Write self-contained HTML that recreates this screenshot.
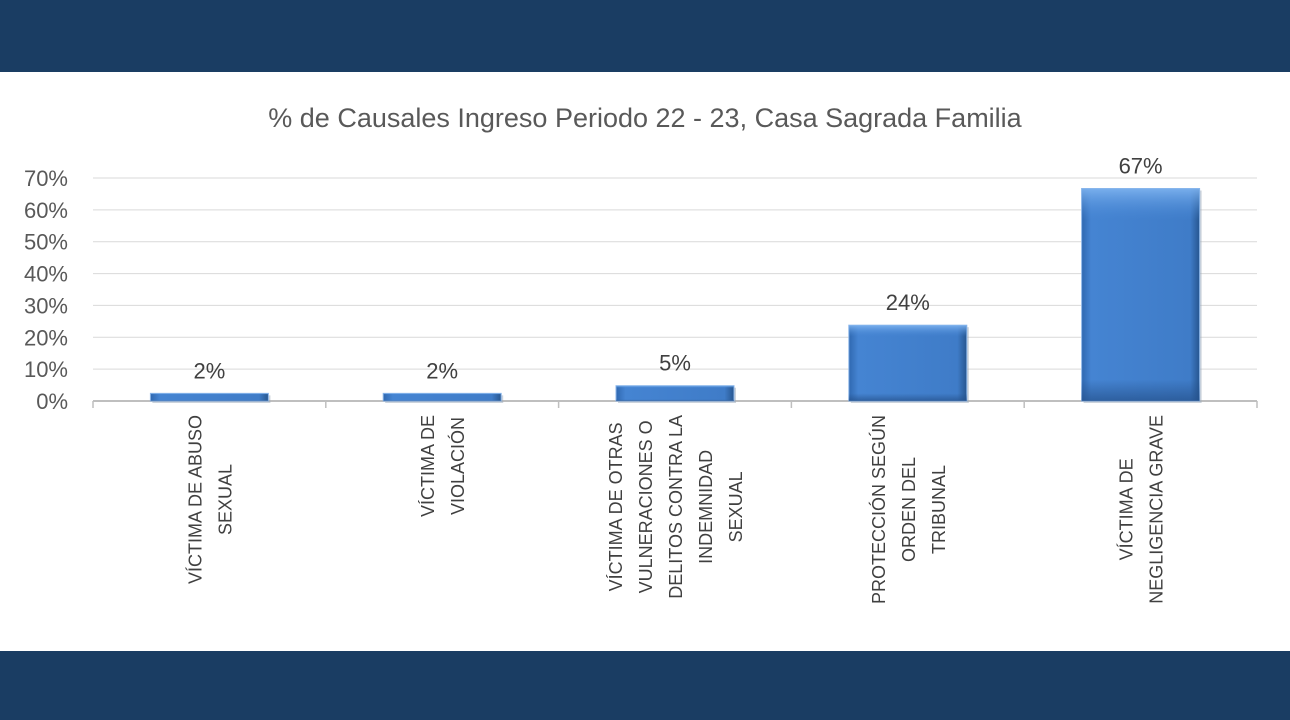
<!DOCTYPE html>
<html><head><meta charset="utf-8">
<style>
html,body{margin:0;padding:0;width:1290px;height:720px;overflow:hidden;background:#fff;font-family:"Liberation Sans",sans-serif;}
.band{position:absolute;left:0;width:1290px;background:#1a3d63;}
</style></head>
<body>
<div class="band" style="top:0;height:72px"></div>
<div class="band" style="top:651px;height:69px"></div>
<svg id="chart" width="1290" height="720" style="position:absolute;left:0;top:0">
<defs>
<linearGradient id="gx" x1="0" x2="1" y1="0" y2="0">
<stop offset="0" stop-color="#2f68b0"/><stop offset="0.08" stop-color="#4584d2"/><stop offset="0.92" stop-color="#3f7cc8"/><stop offset="1" stop-color="#27568f"/>
</linearGradient>
<linearGradient id="gy" x1="0" x2="0" y1="0" y2="1">
<stop offset="0" stop-color="#7fb4f0" stop-opacity="0.9"/><stop offset="0.15" stop-color="#4a8ad8" stop-opacity="0"/><stop offset="0.9" stop-color="#24508a" stop-opacity="0"/><stop offset="1" stop-color="#24508a" stop-opacity="0.7"/>
</linearGradient>
</defs>
<text x="645" y="127" text-anchor="middle" font-size="27" fill="#595959">% de Causales Ingreso Periodo 22 - 23,  Casa Sagrada Familia</text>
<g id="grid"></g><g id="bars"></g><g id="labels"></g>
</svg>
<script>
const categories=[["VÍCTIMA DE ABUSO","SEXUAL"],["VÍCTIMA DE","VIOLACIÓN"],["VÍCTIMA DE OTRAS","VULNERACIONES O","DELITOS CONTRA LA","INDEMNIDAD","SEXUAL"],["PROTECCIÓN SEGÚN","ORDEN DEL","TRIBUNAL"],["VÍCTIMA DE","NEGLIGENCIA GRAVE"]];
const values=[2.4,2.4,4.8,23.8,66.7];
const valueLabels=["2%","2%","5%","24%","67%"];
const yTicks=[0,10,20,30,40,50,60,70];
const NS="http://www.w3.org/2000/svg";
const L=93,R=1257,Y0=401,Y70=178;
const y=v=>Y0-(v/70)*(Y0-Y70);
const band=(R-L)/categories.length;
const x=i=>L+band*(i+0.5);
function mk(t,a,p){const e=document.createElementNS(NS,t);for(const k in a)e.setAttribute(k,a[k]);p.appendChild(e);return e;}
const grid=document.getElementById('grid'),bars=document.getElementById('bars'),labels=document.getElementById('labels');
yTicks.forEach(t=>{
  const ln=mk('line',{x1:L,x2:R,y1:y(t),y2:y(t),stroke:t===0?'#bfbfbf':'#d9d9d9','stroke-width':t===0?2:1},grid);
  
  
  const tx=mk('text',{x:68,y:y(t)+8,'text-anchor':'end','font-size':22,fill:'#595959'},grid);
  tx.textContent=t+'%';
  
  
});
for(let i=0;i<=categories.length;i++){
  const tk=mk('line',{x1:L+band*i,x2:L+band*i,y1:Y0,y2:Y0+7,stroke:'#bfbfbf','stroke-width':1.5},grid);
  
  
}
const bw=118;
values.forEach((v,i)=>{
  const top=y(v),h=Y0-top;
  const g=mk('g',{},bars);
  
  
  mk('rect',{x:x(i)-bw/2+2,y:top+2,width:bw,height:h,fill:'#9aa8b8',opacity:0.5},g);
  mk('rect',{x:x(i)-bw/2,y:top,width:bw,height:h,fill:'url(#gx)',stroke:'#8db6e8','stroke-width':1},g);
  mk('rect',{x:x(i)-bw/2,y:top,width:bw,height:h,fill:'url(#gy)'},g);
  const t=mk('text',{x:x(i),y:top-15,'text-anchor':'middle','font-size':22,fill:'#404040'},labels);
  t.textContent=valueLabels[i];
  
  
});
categories.forEach((lines,i)=>{
  const g=mk('g',{transform:`translate(${x(i)},415) rotate(-90)`},labels);
  
  
  const els=lines.map((s,j)=>{
    const t=mk('text',{'text-anchor':'middle','font-size':18,fill:'#404040',y:(j-(lines.length-1)/2)*30+7},g);
    t.textContent=s;return t;});
  let mx=0;els.forEach(e=>{mx=Math.max(mx,e.getComputedTextLength());});
  els.forEach(e=>e.setAttribute('x',-mx/2));
});
</script>
</body></html>
